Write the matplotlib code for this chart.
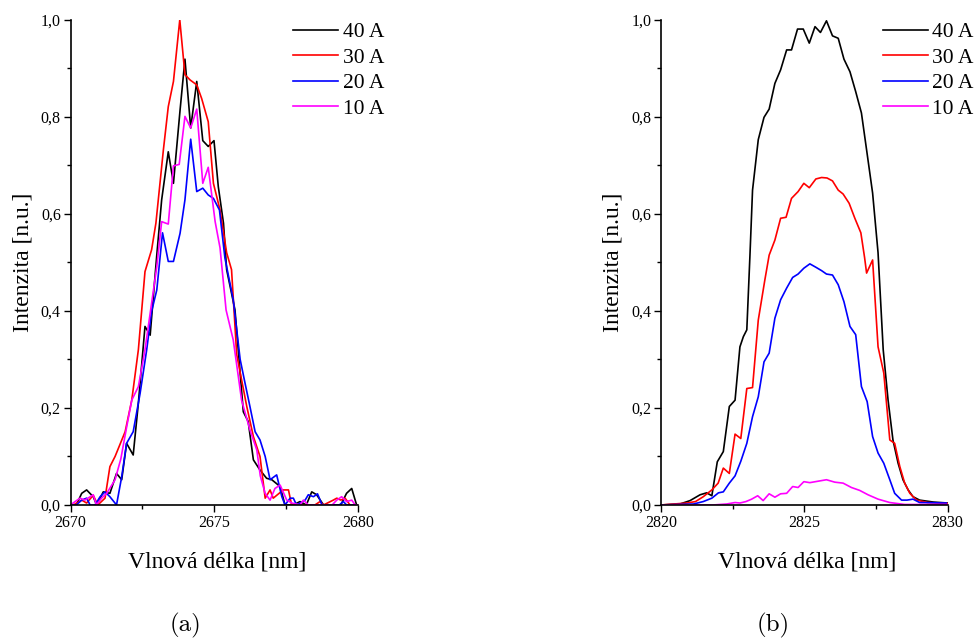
import numpy as np
import matplotlib
matplotlib.use("Agg")
from matplotlib import pyplot as plt
from matplotlib.ticker import FuncFormatter

plt.rcParams['font.family'] = ['Liberation Serif', 'DejaVu Serif']

# (a) 2670-2680 nm
a_x40 = [2670.0, 2670.2, 2670.39, 2670.56, 2670.79, 2670.91, 2671.14, 2671.37, 2671.6, 2671.78,
         2671.95, 2672.18, 2672.36, 2672.59, 2672.77, 2673.0, 2673.17, 2673.4, 2673.58, 2673.81,
         2673.98, 2674.18, 2674.39, 2674.6, 2674.79, 2674.99, 2675.14, 2675.32, 2675.43, 2675.72,
         2676.01, 2676.18, 2676.36, 2676.59, 2676.82, 2677.0, 2677.29, 2677.46, 2677.75, 2677.98,
         2678.2, 2678.39, 2678.56, 2678.8, 2679.4, 2679.6, 2679.78, 2679.95]
a_y40 = [0.0, 0.0, 0.024, 0.031, 0.017, 0.0, 0.027, 0.024, 0.065, 0.052,
         0.127, 0.103, 0.21, 0.368, 0.35, 0.515, 0.629, 0.728, 0.663, 0.814,
         0.919, 0.777, 0.873, 0.751, 0.739, 0.751, 0.656, 0.581, 0.485, 0.402,
         0.192, 0.172, 0.093, 0.072, 0.055, 0.052, 0.038, 0.0, 0.0, 0.007,
         0.0, 0.027, 0.021, 0.0, 0.0, 0.024, 0.034, 0.0]

a_x30 = [2670.0, 2670.1, 2670.39, 2670.56, 2670.79, 2670.95, 2671.2, 2671.37, 2671.55, 2671.9,
         2672.13, 2672.36, 2672.59, 2672.82, 2672.97, 2673.23, 2673.4, 2673.58, 2673.8, 2673.98,
         2674.16, 2674.39, 2674.56, 2674.79, 2674.97, 2675.2, 2675.43, 2675.6, 2675.78, 2676.13,
         2676.36, 2676.59, 2676.77, 2676.94, 2677.05, 2677.4, 2677.58, 2677.69, 2678.5, 2678.68,
         2678.8, 2679.14, 2679.26, 2679.4, 2679.55, 2679.72, 2680.0]
a_y30 = [0.0, 0.0, 0.01, 0.004, 0.02, 0.0, 0.014, 0.079, 0.1, 0.151,
         0.216, 0.32, 0.481, 0.526, 0.581, 0.732, 0.821, 0.873, 1.0, 0.887,
         0.876, 0.866, 0.838, 0.79, 0.663, 0.608, 0.52, 0.485, 0.31, 0.203,
         0.141, 0.1, 0.014, 0.031, 0.014, 0.031, 0.031, 0.0, 0.0, 0.007,
         0.0, 0.01, 0.014, 0.01, 0.014, 0.0, 0.0]

a_x20 = [2670.0, 2670.2, 2670.39, 2670.56, 2670.68, 2670.85, 2671.03, 2671.2, 2671.37, 2671.6,
         2671.78, 2671.95, 2672.18, 2672.42, 2672.65, 2672.82, 2673.0, 2673.2, 2673.4, 2673.58,
         2673.81, 2673.98, 2674.18, 2674.39, 2674.6, 2674.79, 2674.97, 2675.18, 2675.37, 2675.66,
         2675.9, 2676.07, 2676.24, 2676.42, 2676.59, 2676.77, 2676.94, 2677.17, 2677.35, 2677.46,
         2677.64, 2677.75, 2677.86, 2678.16, 2678.27, 2678.45, 2678.59, 2678.75, 2679.35, 2679.49,
         2679.6, 2680.0]
a_y20 = [0.0, 0.0, 0.01, 0.014, 0.0, 0.0, 0.017, 0.027, 0.017, 0.0,
         0.058, 0.127, 0.151, 0.23, 0.32, 0.399, 0.443, 0.561, 0.502, 0.502,
         0.56, 0.629, 0.754, 0.646, 0.653, 0.639, 0.632, 0.608, 0.509, 0.423,
         0.3, 0.251, 0.203, 0.151, 0.134, 0.1, 0.052, 0.062, 0.017, 0.0,
         0.014, 0.014, 0.0, 0.01, 0.021, 0.017, 0.023, 0.0, 0.0, 0.007,
         0.0, 0.0]

a_x10 = [2670.0, 2670.16, 2670.33, 2670.5, 2670.79, 2670.9, 2671.08, 2671.26, 2671.55, 2671.75,
         2671.95, 2672.13, 2672.36, 2672.59, 2672.82, 2673.0, 2673.17, 2673.4, 2673.58, 2673.78,
         2673.98, 2674.18, 2674.39, 2674.6, 2674.79, 2675.03, 2675.2, 2675.41, 2675.66, 2675.95,
         2676.24, 2676.48, 2676.6, 2676.77, 2676.94, 2677.11, 2677.29, 2677.52, 2677.7, 2677.98,
         2678.1, 2678.27, 2679.1, 2679.26, 2679.43, 2679.6, 2679.78, 2679.9, 2680.0]
a_y10 = [0.0, 0.007, 0.014, 0.01, 0.021, 0.0, 0.014, 0.024, 0.052, 0.095,
         0.16, 0.216, 0.244, 0.32, 0.416, 0.491, 0.584, 0.579, 0.699, 0.702,
         0.801, 0.777, 0.816, 0.663, 0.696, 0.584, 0.53, 0.402, 0.34, 0.216,
         0.155, 0.113, 0.06, 0.024, 0.01, 0.034, 0.041, 0.01, 0.004, 0.0,
         0.01, 0.0, 0.0, 0.01, 0.017, 0.007, 0.01, 0.0, 0.0]

# (b) 2820-2830 nm
b_x40 = [2820.0, 2820.66, 2821.01, 2821.36, 2821.59, 2821.77, 2821.96, 2822.17, 2822.38, 2822.58,
         2822.75, 2822.87, 2822.99, 2823.1, 2823.19, 2823.39, 2823.59, 2823.77, 2823.97, 2824.17,
         2824.38, 2824.55, 2824.76, 2824.96, 2825.17, 2825.37, 2825.56, 2825.77, 2825.98, 2826.18,
         2826.38, 2826.59, 2826.79, 2826.99, 2827.17, 2827.38, 2827.57, 2827.75, 2827.92, 2828.09,
         2828.27, 2828.44, 2828.62, 2828.79, 2829.02, 2829.5, 2830.0]
b_y40 = [0.0, 0.002, 0.009, 0.021, 0.025, 0.019, 0.089, 0.11, 0.203, 0.216,
         0.326, 0.347, 0.361, 0.515, 0.649, 0.753, 0.799, 0.816, 0.869, 0.897,
         0.938, 0.938, 0.981, 0.981, 0.952, 0.986, 0.974, 0.998, 0.967, 0.962,
         0.919, 0.893, 0.852, 0.808, 0.732, 0.643, 0.52, 0.32, 0.216, 0.134,
         0.086, 0.052, 0.031, 0.017, 0.01, 0.006, 0.004]

b_x30 = [2820.0, 2820.9, 2821.2, 2821.47, 2821.77, 2821.99, 2822.17, 2822.38, 2822.58, 2822.78,
         2822.99, 2823.19, 2823.39, 2823.62, 2823.77, 2823.97, 2824.17, 2824.36, 2824.55, 2824.78,
         2824.98, 2825.17, 2825.4, 2825.6, 2825.79, 2825.98, 2826.18, 2826.35, 2826.56, 2826.76,
         2826.97, 2827.1, 2827.17, 2827.38, 2827.57, 2827.77, 2827.98, 2828.15, 2828.33, 2828.5,
         2828.68, 2828.91, 2829.3, 2830.0]
b_y30 = [0.0, 0.004, 0.007, 0.017, 0.031, 0.045, 0.076, 0.065, 0.146, 0.137,
         0.24, 0.242, 0.381, 0.464, 0.515, 0.546, 0.591, 0.593, 0.632, 0.646,
         0.663, 0.654, 0.672, 0.675, 0.674, 0.668, 0.649, 0.641, 0.622, 0.591,
         0.561, 0.51, 0.478, 0.505, 0.326, 0.272, 0.134, 0.127, 0.079, 0.045,
         0.024, 0.01, 0.005, 0.003]

b_x20 = [2820.0, 2821.13, 2821.47, 2821.77, 2822.0, 2822.17, 2822.38, 2822.58, 2822.78, 2822.99,
         2823.19, 2823.39, 2823.59, 2823.77, 2823.97, 2824.17, 2824.38, 2824.59, 2824.78, 2824.98,
         2825.19, 2825.4, 2825.6, 2825.77, 2825.98, 2826.18, 2826.38, 2826.59, 2826.79, 2826.99,
         2827.19, 2827.38, 2827.57, 2827.77, 2827.98, 2828.15, 2828.39, 2828.58, 2828.79, 2829.02,
         2829.95]
b_y20 = [0.0, 0.002, 0.007, 0.014, 0.025, 0.027, 0.045, 0.06, 0.09, 0.127,
         0.182, 0.223, 0.295, 0.313, 0.385, 0.423, 0.447, 0.469, 0.476, 0.488,
         0.497, 0.49, 0.483, 0.476, 0.474, 0.454, 0.419, 0.368, 0.351, 0.244,
         0.213, 0.141, 0.107, 0.086, 0.052, 0.024, 0.01, 0.01, 0.012, 0.005,
         0.004]

b_x10 = [2820.0, 2821.82, 2822.29, 2822.58, 2822.75, 2822.96, 2823.16, 2823.37, 2823.56, 2823.77,
         2823.97, 2824.17, 2824.38, 2824.59, 2824.78, 2824.98, 2825.19, 2825.48, 2825.77, 2826.06,
         2826.35, 2826.64, 2826.93, 2827.22, 2827.57, 2827.98, 2828.5, 2830.0]
b_y10 = [0.0, 0.0, 0.002, 0.005, 0.004, 0.007, 0.012, 0.019, 0.009, 0.023,
         0.016, 0.023, 0.024, 0.038, 0.036, 0.048, 0.046, 0.049, 0.052, 0.047,
         0.045, 0.036, 0.03, 0.021, 0.012, 0.005, 0.001, 0.001]

labels = ['40 A', '30 A', '20 A', '10 A']
colors = ['black', '#ff0000', '#0000ff', '#ff00ff']

panels = [
    (2670, [(a_x40, a_y40), (a_x30, a_y30), (a_x20, a_y20), (a_x10, a_y10)]),
    (2820, [(b_x40, b_y40), (b_x30, b_y30), (b_x20, b_y20), (b_x10, b_y10)]),
]

fig = plt.figure(figsize=(9.78, 6.4), dpi=100)
rects = [[0.0721, 0.211, 0.294, 0.758], [0.676, 0.211, 0.293, 0.758]]
cap_x = [185 / 978, 773 / 978]
comma = FuncFormatter(lambda v, p: f'{v:.1f}'.replace('.', ','))

for rect, (x0, series), cap, cx in zip(rects, panels, ['(a)', '(b)'], cap_x):
    ax = fig.add_axes(rect)
    for (xs, ys), lab, c in zip(series, labels, colors):
        ax.plot(xs, ys, color=c, lw=1.2, label=lab)
    ax.set_xlim(x0, x0 + 10)
    ax.set_ylim(0, 1.0)
    ax.set_xticks([x0, x0 + 5, x0 + 10])
    ax.set_xticks([x0 + 2.5, x0 + 7.5], minor=True)
    ax.set_yticks(np.arange(0, 1.01, 0.2))
    ax.set_yticks(np.arange(0.1, 1.0, 0.2), minor=True)
    ax.yaxis.set_major_formatter(comma)
    ax.tick_params(which='major', direction='out', length=5, width=1, labelsize=11.5, pad=2)
    ax.tick_params(which='minor', direction='out', length=3, width=1)
    for s in ['top', 'right']:
        ax.spines[s].set_visible(False)
    for s in ['left', 'bottom']:
        ax.spines[s].set_linewidth(1.2)
    ax.set_xlabel('Vlnová délka [nm]', fontsize=17)
    ax.set_ylabel('Intenzita [n.u.]', fontsize=17)
    ax.xaxis.set_label_coords(0.51, -0.095)
    ax.yaxis.set_label_coords(-0.13, 0.5)
    ax.legend(loc='upper left', bbox_to_anchor=(0.774, 0.995), frameon=False, fontsize=15.5,
              handlelength=2.1, handletextpad=0.2, labelspacing=0.25, borderaxespad=0, borderpad=0)
    fig.text(cx, 1 - 625 / 640, cap, fontfamily='cmr10', fontsize=18, ha='center', va='center')

fig.savefig('out.png', dpi=100)
